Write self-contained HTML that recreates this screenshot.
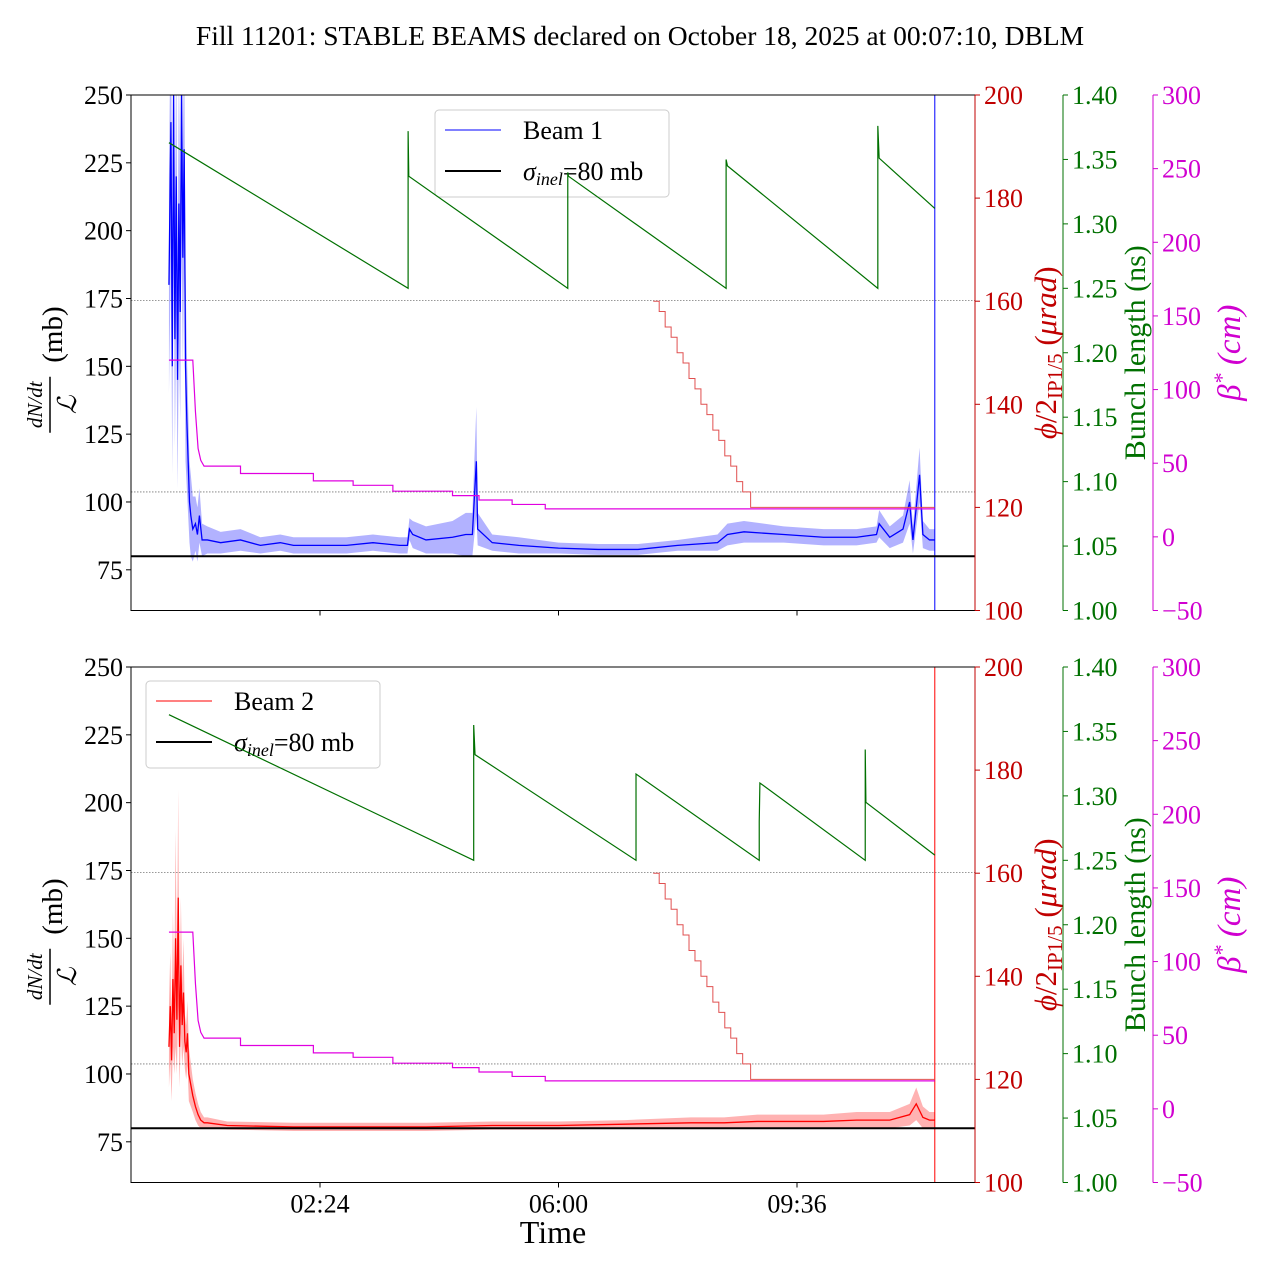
<!DOCTYPE html>
<html><head><meta charset="utf-8"><style>
body{margin:0;background:#fff}
svg text{font-family:"Liberation Serif",serif}
</style></head><body>
<svg id="c" width="1280" height="1280" xmlns="http://www.w3.org/2000/svg"></svg>
<script>
// ---------- data ----------
const greenTop = [[0.12,1.363],[3.73,1.25],[3.73,1.372],[3.74,1.337],[6.14,1.25],[6.14,1.34],[6.15,1.337],[8.53,1.25],[8.53,1.35],[8.55,1.345],[10.82,1.25],[10.82,1.376],[10.84,1.351],[11.68,1.312]];
const greenBot = [[0.12,1.363],[4.72,1.25],[4.72,1.355],[4.74,1.332],[7.17,1.25],[7.17,1.317],[9.03,1.25],[9.03,1.28],[9.04,1.31],[10.63,1.25],[10.63,1.336],[10.64,1.295],[11.68,1.254]];
const phiT = [7.43,7.52,7.61,7.70,7.79,7.88,7.97,8.06,8.15,8.24,8.33,8.42,8.51,8.60,8.69,8.78,8.90,11.68];
const phiV = [160,158,155,153,150,148,145,143,140,138,135,133,130,128,125,123,120,120];
const betaT = [0.12,0.48,0.52,0.56,0.6,0.65,1.2,2.3,2.9,3.5,4.4,4.8,5.3,5.8,11.68];
const betaV = [120,120,85,60,52,48,43,38,35,31,28,25,22,19,19];
const b1T = [0.12,0.15,0.17,0.19,0.21,0.23,0.25,0.27,0.29,0.31,0.33,0.35,0.37,0.39,0.41,0.43,0.45,0.48,0.52,0.55,0.58,0.62,0.7,0.9,1.2,1.5,1.8,2.0,2.4,2.8,3.2,3.6,3.72,3.75,3.8,4.0,4.4,4.6,4.7,4.76,4.78,5.0,5.4,6.0,6.6,7.2,7.8,8.4,8.55,8.8,9.4,10.0,10.5,10.8,10.84,11.0,11.2,11.3,11.35,11.45,11.5,11.6,11.68];
const b1V = [180,240,150,250,160,220,145,210,170,250,190,230,150,130,115,100,95,90,92,88,95,86,86,85,86,84,85,84,84,84,85,84,84,90,88,86,87,88,88,115,90,85,84,83,82.5,82.5,84,85,88,89,88,87,87,88,92,87,90,100,86,110,88,86,86];
const b1S = [40,50,40,50,40,50,40,50,40,50,40,40,35,25,20,15,15,12,10,10,10,6,5,4,4,3,3,3,3,3,3,3,3,4,5,5,6,8,8,20,6,3,3,2,2,2,2,3,4,4,3,3,3,3,5,4,5,8,5,10,5,4,4];
const b2T = [0.12,0.14,0.16,0.18,0.2,0.22,0.24,0.26,0.28,0.3,0.32,0.34,0.36,0.38,0.4,0.42,0.45,0.48,0.52,0.56,0.6,0.65,0.7,1.0,2.0,3.0,4.0,5.0,6.0,7.0,8.0,8.5,9.0,10.0,10.5,11.0,11.3,11.4,11.5,11.6,11.68];
const b2V = [110,125,105,135,115,150,120,165,110,140,118,130,112,108,115,100,96,92,88,85,83,82,82,81,80.5,80.5,80.5,81,81,81.5,82,82,82.5,82.5,83,83,85,89,84,83,83];
const b2S = [15,20,15,25,15,40,20,40,15,25,15,20,10,10,12,10,8,6,5,4,3,2,2,1.5,1.5,1.5,1.5,1.5,1.5,1.5,2,2,2.5,2.5,3,3,4,6,4,3,3];
const leftTicks = [75,100,125,150,175,200,225,250];
const redTicks = [100,120,140,160,180,200];
const greenTicks = [1.00,1.05,1.10,1.15,1.20,1.25,1.30,1.35,1.40];
const magTicks = [-50,0,50,100,150,200,250,300];
const timeTicks = [2.4,6.0,9.6];
const timeLabels = ["02:24","06:00","09:36"];

const NS="http://www.w3.org/2000/svg", svg=document.getElementById('c');
function el(t,a,p){const e=document.createElementNS(NS,t);for(const k in a)e.setAttribute(k,a[k]);(p||svg).appendChild(e);return e;}
function txt(s,a,p){const e=el('text',a,p);e.textContent=s;return e;}
const X0=131,X1=975,H=515.5;
const x=t=>161+t*66.25;

const title=txt("Fill 11201: STABLE BEAMS declared on October 18, 2025 at 00:07:10, DBLM",{x:640,y:45,'font-size':27.5,'text-anchor':'middle'});



function panel(y0,beam){
  const g=el('g',{});
  
  
  const yL=v=>y0+(250-v)*H/190, yR=v=>y0+(200-v)*H/100, yG=v=>y0+(1.4-v)*H/0.4, yM=v=>y0+(300-v)*H/350;
  [174.2,103.7].forEach(v=>{const l=el('line',{x1:X0,x2:X1,y1:yL(v),y2:yL(v),stroke:'#777','stroke-width':0.8,'stroke-dasharray':'1.5,1.5'},g);
    });
  const T=beam===1?b1T:b2T, V=beam===1?b1V:b2V, S=beam===1?b1S:b2S, col=beam===1?'#0000ff':'#ff0000';
  const clip='clip'+beam; const cp=el('clipPath',{id:clip},g); el('rect',{x:X0,y:y0,width:X1-X0,height:H},cp);
  let up=T.map((t,i)=>x(t)+','+yL(V[i]+S[i])).join(' '), dn=T.map((t,i)=>x(t)+','+yL(V[i]-S[i])).reverse().join(' ');
  const band=el('polygon',{points:up+' '+dn,fill:col,'fill-opacity':0.3,'clip-path':`url(#${clip})`},g);
  
  const ln=el('polyline',{points:T.map((t,i)=>x(t)+','+yL(V[i])).join(' '),fill:'none',stroke:col,'stroke-width':1.3,'clip-path':`url(#${clip})`},g);
  
  const vl=el('line',{x1:x(11.68),x2:x(11.68),y1:y0,y2:y0+H,stroke:col,'stroke-width':1},g);
  
  const sl=el('line',{x1:X0,x2:X1,y1:yL(80),y2:yL(80),stroke:'#000','stroke-width':2},g);
  
  // legend (under twin-axis lines)
  const lx=beam===1?435:146, ly=beam===1?110:681;
  const lg=el('g',{},g);
  el('rect',{x:lx,y:ly,width:234,height:87,rx:4,fill:'#fff','fill-opacity':0.8,stroke:'#ccc'},lg);
  el('line',{x1:lx+10,x2:lx+66,y1:ly+20,y2:ly+20,stroke:col,'stroke-width':1},lg);
  const e1=txt(beam===1?'Beam 1':'Beam 2',{x:lx+88,y:ly+29,'font-size':26},lg);
  el('line',{x1:lx+10,x2:lx+66,y1:ly+61,y2:ly+61,stroke:'#000','stroke-width':2},lg);
  const e2=el('text',{x:lx+88,y:ly+70,'font-size':26},lg);e2.innerHTML='<tspan font-style="italic">\u03c3</tspan><tspan font-size="18" dy="5" font-style="italic">inel</tspan><tspan dy="-5">=80 mb</tspan>';
  
  // phi steps
  let pp=[];phiT.forEach((t,i)=>{if(i>0)pp.push(x(t)+','+yR(phiV[i-1]));pp.push(x(t)+','+yR(phiV[i]));});
  const ph=el('polyline',{points:pp.join(' '),fill:'none',stroke:'#e05050','stroke-width':1},g);
  
  let bp=[];betaT.forEach((t,i)=>{if(i>0&&i>5)bp.push(x(t)+','+yM(betaV[i-1]));bp.push(x(t)+','+yM(betaV[i]));});
  const bl=el('polyline',{points:bp.join(' '),fill:'none',stroke:'#e000e0','stroke-width':1.2},g);
  
  const G=beam===1?greenTop:greenBot;
  const gl=el('polyline',{points:G.map(p=>x(p[0])+','+yG(p[1])).join(' '),fill:'none',stroke:'#007000','stroke-width':1.2},g);
  
  el('rect',{x:X0,y:y0,width:X1-X0,height:H,fill:'none',stroke:'#000','stroke-width':1},g);
  leftTicks.forEach(v=>{el('line',{x1:X0-5,x2:X0,y1:yL(v),y2:yL(v),stroke:'#000'},g);
    const t=txt(v,{x:X0-8,y:yL(v)+9,'font-size':26,'text-anchor':'end'},g);});
  function raxis(xa,ticks,f,color,fmt,name){el('line',{x1:xa,x2:xa,y1:y0,y2:y0+H,stroke:color,'stroke-width':1},g);
    ticks.forEach(v=>{el('line',{x1:xa,x2:xa+5,y1:f(v),y2:f(v),stroke:color},g);
      const t=txt(fmt(v),{x:xa+9,y:f(v)+9,'font-size':26,fill:color},g);});}
  raxis(975,redTicks,yR,'#c00000',v=>v,'phi-tick-label');
  raxis(1063,greenTicks,yG,'#007000',v=>v.toFixed(2),'bunch-tick-label');
  raxis(1153,magTicks,yM,'#d000d0',v=>v<0?'\u2212'+(-v):v,'beta-tick-label');
  timeTicks.forEach((t,i)=>{el('line',{x1:x(t),x2:x(t),y1:y0+H,y2:y0+H+5,stroke:'#000'},g);
    if(beam===2){const l=txt(timeLabels[i],{x:x(t),y:y0+H+30,'font-size':26,'text-anchor':'middle'},g);}});
  const cy=y0+H/2;
  const yl=el('g',{transform:`translate(62,${cy}) rotate(-90)`},g);
  txt('dN/dt',{x:-52,y:-20,'font-size':21,'font-style':'italic','text-anchor':'middle'},yl);
  el('line',{x1:-80,x2:-24,y1:-12,y2:-12,stroke:'#000','stroke-width':1.5},yl);
  txt('\u2112',{x:-52,y:14,'font-size':26,'font-style':'italic','text-anchor':'middle'},yl);
  txt('(mb)',{x:-10,y:0,'font-size':29},yl);
  const rl=el('text',{transform:`translate(1056,${cy}) rotate(-90)`,'font-size':31,fill:'#c00000','text-anchor':'middle'},g);
  rl.innerHTML='<tspan font-style="italic">\u03d5</tspan>/2<tspan font-size="21" dy="6">IP1/5</tspan><tspan dy="-6"> (</tspan><tspan font-style="italic">\u03bcrad</tspan>)';
  
  const gt=txt('Bunch length (ns)',{transform:`translate(1145,${cy}) rotate(-90)`,'font-size':30,fill:'#007000','text-anchor':'middle','font-family':'Liberation Sans'},g);
  
  const mt=el('text',{transform:`translate(1240,${cy}) rotate(-90)`,'font-size':33,fill:'#d000d0','text-anchor':'middle','font-style':'italic'},g);
  mt.innerHTML='\u03b2<tspan dy="-11" font-size="22">*</tspan><tspan dy="11"> (cm)</tspan>';
  
}
panel(95,1);panel(667,2);
const xt=txt('Time',{x:553,y:1243,'font-size':32,'text-anchor':'middle'});


</script>
</body></html>
